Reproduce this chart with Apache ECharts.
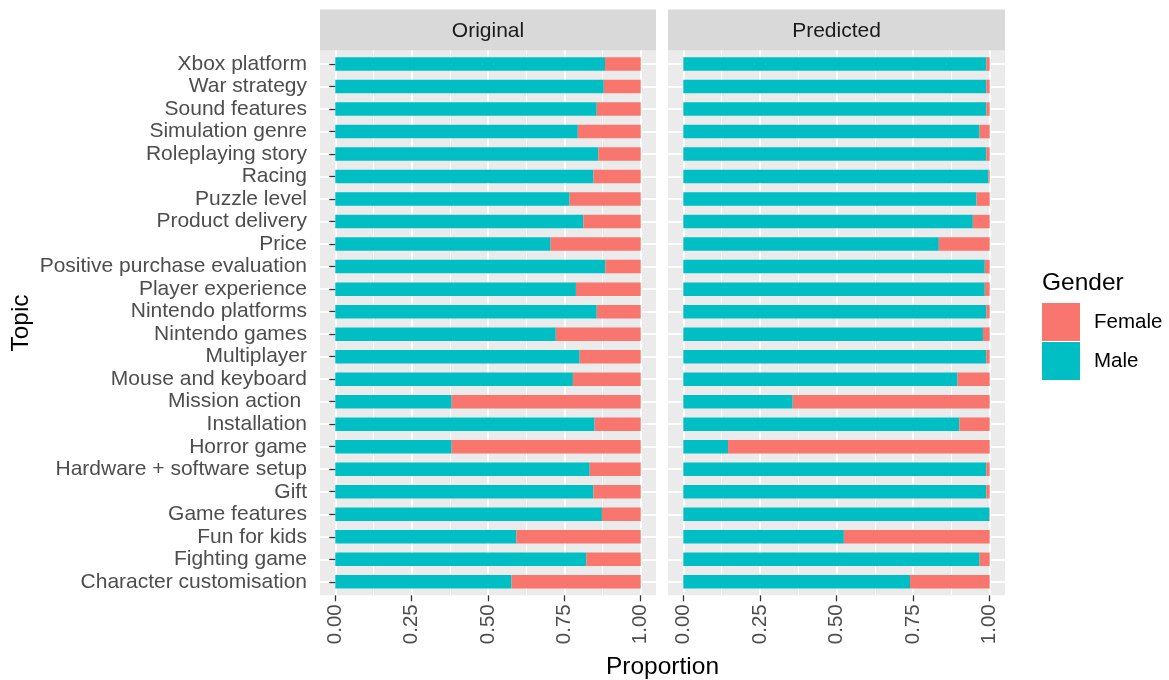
<!DOCTYPE html>
<html>
<head>
<meta charset="utf-8">
<script src="https://cdn.jsdelivr.net/npm/echarts@6/dist/echarts.min.js"></script>
<style>html,body{margin:0;padding:0;background:#fff}#c{width:1169px;height:680px}</style>
</head>
<body>
<div id="c"></div>
<script>
var topics = ["Xbox platform","War strategy","Sound features","Simulation genre","Roleplaying story","Racing","Puzzle level","Product delivery","Price","Positive purchase evaluation","Player experience","Nintendo platforms","Nintendo games","Multiplayer","Mouse and keyboard","Mission action ","Installation","Horror game","Hardware + software setup","Gift","Game features","Fun for kids","Fighting game","Character customisation"];
var panels = ["Original","Predicted"];
var origMale   = [0.883,0.879,0.856,0.794,0.861,0.845,0.767,0.812,0.705,0.884,0.788,0.856,0.722,0.800,0.778,0.381,0.849,0.381,0.833,0.845,0.873,0.593,0.822,0.577];
var origFemale = [0.117,0.121,0.144,0.206,0.139,0.155,0.233,0.188,0.295,0.116,0.212,0.144,0.278,0.200,0.222,0.619,0.151,0.619,0.167,0.155,0.127,0.407,0.178,0.423];
var predMale   = [0.989,0.989,0.989,0.967,0.989,0.996,0.957,0.945,0.834,0.984,0.984,0.989,0.978,0.989,0.895,0.357,0.901,0.146,0.989,0.989,0.999,0.524,0.967,0.740];
var predFemale = [0.011,0.011,0.011,0.033,0.011,0.004,0.043,0.055,0.166,0.016,0.016,0.011,0.022,0.011,0.105,0.643,0.099,0.854,0.011,0.011,0.001,0.476,0.033,0.260];
var xTicks = [0, 0.25, 0.5, 0.75, 1];

var FONT = "'Liberation Sans', Arial, sans-serif";
var MALE = '#00BFC4', FEMALE = '#F8766D';

var chart = echarts.init(document.getElementById('c'), null, {renderer: 'canvas'});

var panelLeft = [320, 668], panelW = [336, 337];
var pTop = 50.5, pH = 544.8;
var nCat = topics.length;
var band = pH / (nCat + 0.2);
var grids = [], xAxes = [], yAxes = [], series = [], graphics = [];

for (var p = 0; p < 2; p++) {
  var L = panelLeft[p], W = panelW[p];
  var unit = W / 1.1;
  var base = grids.length;
  grids.push({left: L, top: pTop, width: W, height: pH, show: true, backgroundColor: '#EBEBEB', borderWidth: 0});
  grids.push({left: L, top: pTop + 0.1 * band, width: W, height: band * nCat});
  grids.push({left: L + 0.05 * unit, top: pTop, width: unit, height: pH});

  xAxes.push({gridIndex: base, type: 'value', show: false});
  yAxes.push({gridIndex: base, type: 'value', show: false});

  xAxes.push({gridIndex: base + 1, type: 'value', min: -0.05, max: 1.05, show: false});
  yAxes.push({
    gridIndex: base + 1, type: 'category', data: topics, inverse: true,
    axisLine: {show: false},
    axisTick: {show: p === 0, alignWithLabel: true, length: 6, lineStyle: {color: '#333333', width: 1.3}},
    axisLabel: {show: p === 0, fontSize: 21, color: '#4D4D4D', fontFamily: FONT, margin: 13, interval: 0},
    splitLine: {show: true, alignWithLabel: true, lineStyle: {color: '#FFFFFF', width: 2}}
  });

  xAxes.push({
    gridIndex: base + 2, type: 'value', min: 0, max: 1, interval: 0.25,
    axisLine: {show: false},
    axisTick: {show: true, length: 6, lineStyle: {color: '#333333', width: 1.3}},
    axisLabel: {rotate: 90, fontSize: 20.5, color: '#4D4D4D', fontFamily: FONT, margin: 9,
      formatter: function (v) { return v.toFixed(2); }},
    splitLine: {show: true, lineStyle: {color: '#FFFFFF', width: 2}},
    minorTick: {show: false, splitNumber: 2},
    minorSplitLine: {show: true, lineStyle: {color: '#FFFFFF', width: 1}}
  });
  yAxes.push({gridIndex: base + 2, type: 'value', show: false});

  var male = p === 0 ? origMale : predMale;
  var female = p === 0 ? origFemale : predFemale;
  series.push({
    name: 'Male', type: 'bar', xAxisIndex: base + 1, yAxisIndex: base + 1,
    stack: 'p' + p, data: male, barWidth: '60%', itemStyle: {color: MALE}, z: 3
  });
  series.push({
    name: 'Female', type: 'bar', xAxisIndex: base + 1, yAxisIndex: base + 1,
    stack: 'p' + p, data: female, barWidth: '60%', itemStyle: {color: FEMALE}, z: 3
  });

  graphics.push({
    type: 'rect', left: L, top: 9.5, shape: {width: W, height: 41},
    style: {fill: '#D9D9D9'}, z: 0
  });
  graphics.push({
    type: 'text', x: L + W / 2, y: 31,
    style: {text: panels[p], fill: '#1A1A1A', font: '21px ' + FONT, textAlign: 'center', textVerticalAlign: 'middle'}, z: 1
  });
}

graphics.push({
  type: 'text', x: 662.5, y: 667,
  style: {text: 'Proportion', fill: '#000000', font: '24.5px ' + FONT, textAlign: 'center', textVerticalAlign: 'middle'}
});
graphics.push({
  type: 'text', x: 21, y: 323, rotation: Math.PI / 2,
  style: {text: 'Topic', fill: '#000000', font: '24.5px ' + FONT, textAlign: 'center', textVerticalAlign: 'middle'}
});
graphics.push({
  type: 'text', x: 1042, y: 283,
  style: {text: 'Gender', fill: '#000000', font: '24.5px ' + FONT, textAlign: 'left', textVerticalAlign: 'middle'}
});

chart.setOption({
  animation: false,
  textStyle: {fontFamily: FONT},
  grid: grids,
  xAxis: xAxes,
  yAxis: yAxes,
  legend: {
    data: ['Female', 'Male'], orient: 'vertical', left: 1042, top: 303,
    itemWidth: 38, itemHeight: 38, itemGap: 1, padding: 0, selectedMode: false,
    icon: 'rect',
    textStyle: {fontSize: 20.5, color: '#000000', fontFamily: FONT, padding: [0, 0, 0, 9]}
  },
  graphic: graphics,
  series: series
});
</script>
</body>
</html>
